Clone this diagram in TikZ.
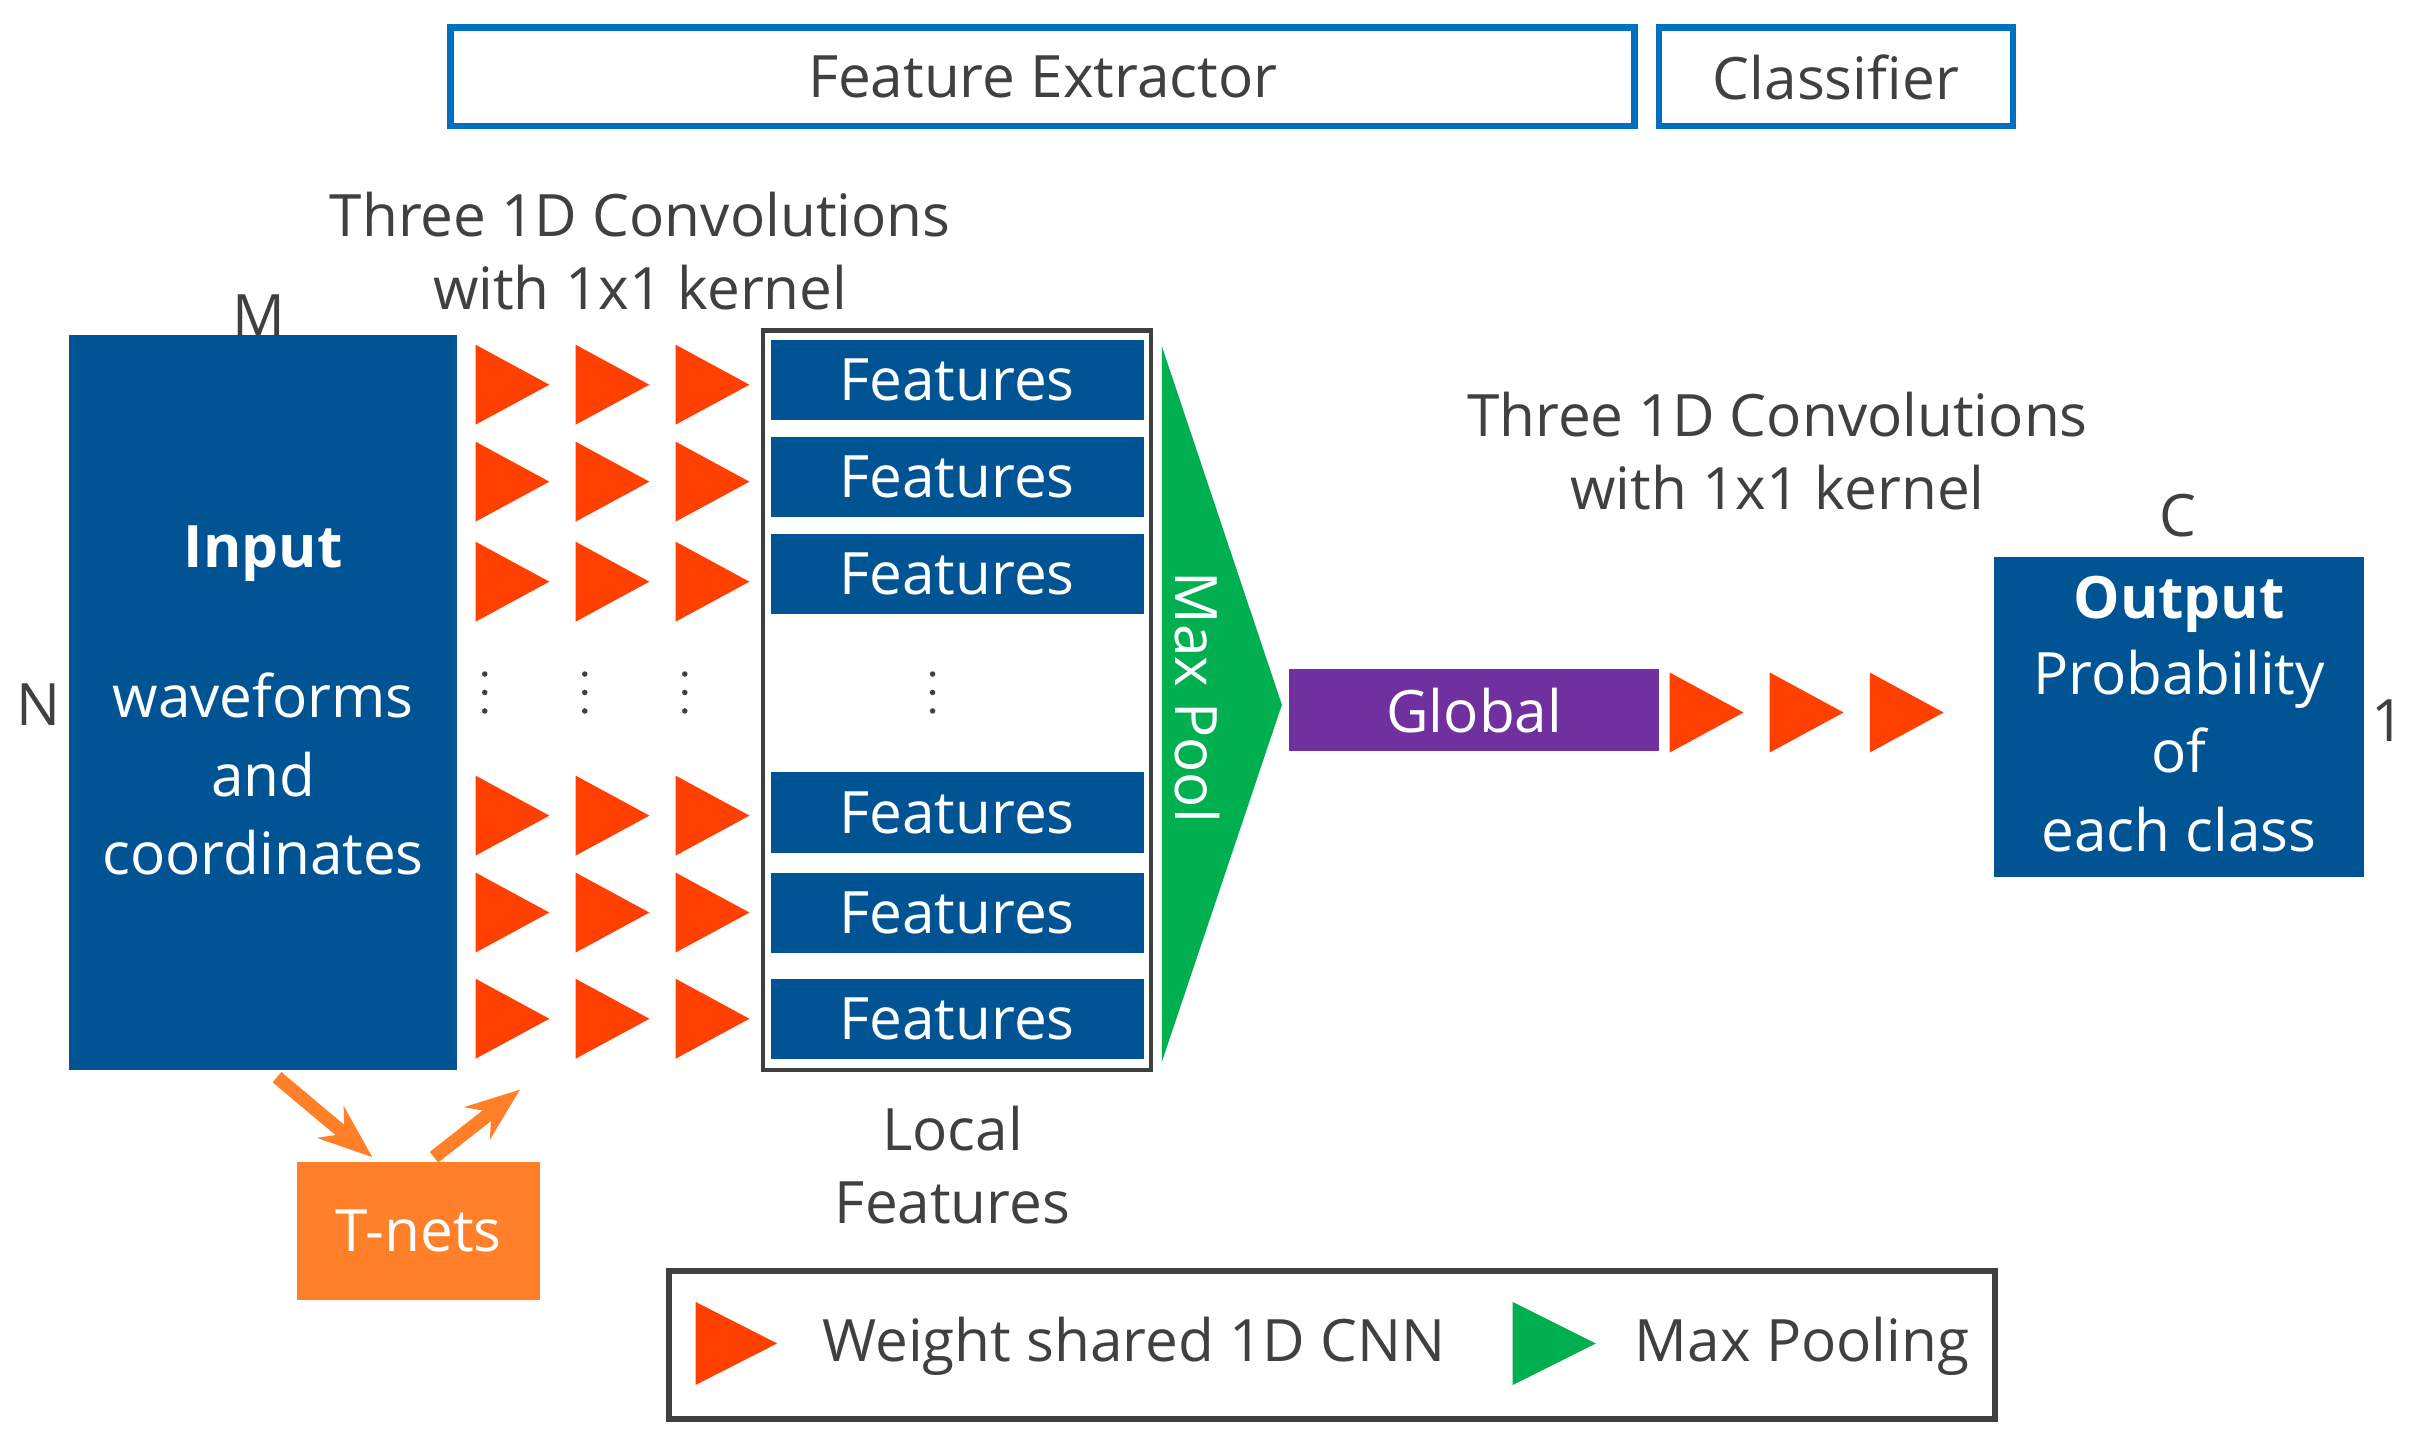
\documentclass[tikz,border=0pt]{standalone}
\usepackage{fontspec}
\setmainfont{Open Sans}
\usetikzlibrary{arrows.meta}
\definecolor{dblue}{RGB}{0,84,147}
\definecolor{lblue}{RGB}{0,112,192}
\definecolor{cred}{RGB}{255,64,0}
\definecolor{cgreen}{RGB}{0,176,80}
\definecolor{cpurple}{RGB}{112,48,160}
\definecolor{corange}{RGB}{255,128,40}
\definecolor{tgray}{RGB}{64,64,64}
\tikzset{
 lbl/.style={text=tgray,font=\fontsize{10.8}{13.5}\selectfont,align=center},
 wt/.style={text=white,font=\fontsize{10.8}{13.5}\selectfont,align=center},
 feat/.style={fill=dblue,minimum width=2.42cm,minimum height=0.52cm,inner sep=0pt,wt},
}
\newcommand\rtri[3]{\fill[#3] ({#1-24},{#2-26}) -- ({#1+24},{#2}) -- ({#1-24},{#2+26}) -- cycle;}
\newcommand\vdotsat[2]{\foreach \dy in {-12,0,12}{\fill[tgray] ({#1},{#2+\dy}) circle[radius=1.8];}}
\begin{document}
\begin{tikzpicture}[x=0.01cm,y=-0.01cm]
\useasboundingbox (0,0) rectangle (1568,940);
% header boxes
\node[draw=lblue,line width=1.2pt,minimum width=7.69cm,minimum height=0.64cm,lbl] (fe) at (677.5,50) {Feature Extractor};
\node[draw=lblue,line width=1.2pt,minimum width=2.30cm,minimum height=0.64cm,lbl] (cl) at (1193,50) {Classifier};
% input
\node[fill=dblue,minimum width=2.52cm,minimum height=4.77cm,inner sep=0pt] (in) at (171,456.5) {};
\node[wt,font=\fontsize{10.8}{13.5}\selectfont\bfseries] (inl) at (171,360) {Input};
\node[wt] (inw) at (171,503) {waveforms\\[1pt]and\\[1pt]coordinates};
\node[lbl] (m) at (168,205) {M};
\node[lbl] (n) at (25,458) {N};
% conv label
\node[lbl] (c1) at (416,163) {Three 1D Convolutions\\with 1x1 kernel};
% triangles
\foreach \x in {333,398,463}{
 \foreach \y in {250,313,378,530,593,662}{\rtri{\x}{\y}{cred}}
 \vdotsat{\x-18}{450}
}
% features
\node[draw=tgray,line width=0.8pt,minimum width=2.52cm,minimum height=4.80cm,inner sep=0pt] (fbox) at (622,455) {};
\foreach \y/\nm in {247/f1,310/f2,373/f3,528/f4,593/f5,662/f6}{
 \node[feat] (\nm) at (622,\y) {Features};
}
\vdotsat{606}{450}
\node[lbl] (lf) at (619,757) {Local\\Features};
% max pool
\fill[cgreen] (755,225) -- (833,458) -- (755,690) -- cycle;
\node[wt,rotate=-90] (mp) at (778,453) {Max Pool};
% global
\node[fill=cpurple,minimum width=2.40cm,minimum height=0.53cm,inner sep=0pt,wt] (gl) at (958,461.5) {Global};
\foreach \x in {1109,1174,1239}{\rtri{\x}{463}{cred}}
\node[lbl] (c2) at (1155,293) {Three 1D Convolutions\\with 1x1 kernel};
% output
\node[fill=dblue,minimum width=2.40cm,minimum height=2.08cm,inner sep=0pt] (out) at (1416,466) {};
\node[wt,font=\fontsize{10.8}{13.5}\selectfont\bfseries] (ol) at (1416,393) {Output};
\node[wt] (ot) at (1416,488) {Probability\\[1pt]of\\[1pt]each class};
\node[lbl] (cc) at (1415,335) {C};
\node[lbl] (one) at (1552,468) {1};
% T-nets
\node[fill=corange,minimum width=1.58cm,minimum height=0.90cm,inner sep=0pt,wt] (tn) at (272,800) {T-nets};
\coordinate (a1) at (180,700);
\coordinate (a2) at (242,752);
\coordinate (a3) at (282,752);
\coordinate (a4) at (338,708);
\draw[corange,line width=2.5pt,-{Stealth[length=10pt]}] (a1) -- (a2);
\draw[corange,line width=2.5pt,-{Stealth[length=10pt]}] (a3) -- (a4);
% legend
\node[draw=tgray,line width=1pt,minimum width=8.61cm,minimum height=0.96cm] (lg) at (865.5,874) {};
\fill[cred] (452,846) -- (505,873) -- (452,900) -- cycle;
\node[lbl,anchor=west] (l1) at (522,875) {Weight shared 1D CNN};
\fill[cgreen] (983,846) -- (1037,873) -- (983,900) -- cycle;
\node[lbl,anchor=west] (l2) at (1050,875) {Max Pooling};
\end{tikzpicture}
\end{document}
